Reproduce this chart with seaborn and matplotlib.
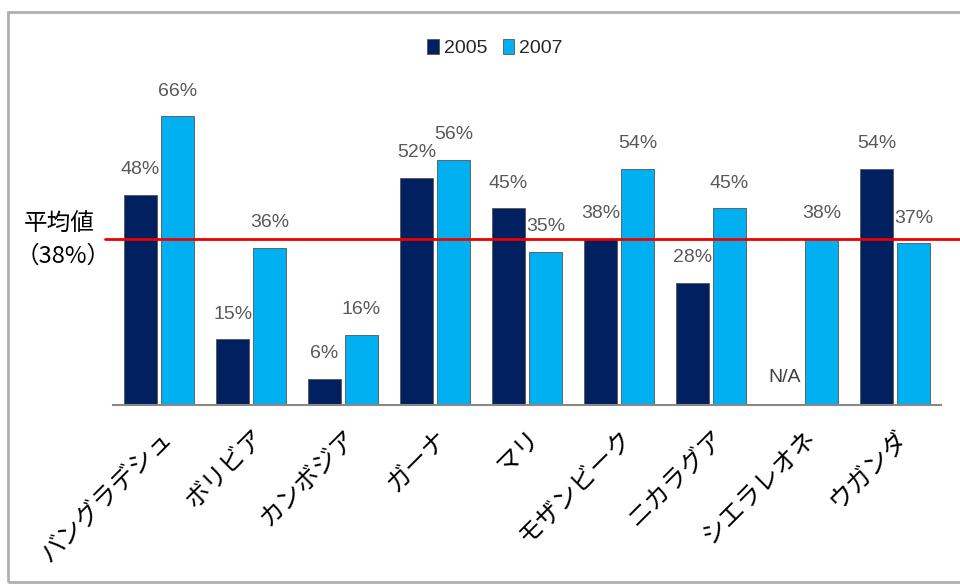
import numpy as np
import pandas as pd
import matplotlib
matplotlib.use("Agg")
import matplotlib.pyplot as plt
import seaborn as sns
from matplotlib.patches import Rectangle

countries = ["バングラデシュ", "ボリビア", "カンボジア", "ガーナ", "マリ",
             "モザンビーク", "ニカラグア", "シエラレオネ", "ウガンダ"]
v2005 = [48, 15, 6, 52, 45, 38, 28, np.nan, 54]
v2007 = [66, 36, 16, 56, 35, 54, 45, 38, 37]
years = ["2005", "2007"]
average = 38

sns.set_theme(style="white")
plt.rcParams['font.family'] = ['Noto Sans CJK JP', 'DejaVu Sans']

df = pd.DataFrame({
    "country": countries * 2,
    "year": [years[0]] * len(countries) + [years[1]] * len(countries),
    "value": v2005 + v2007,
})

fig = plt.figure(figsize=(9.6, 5.85), dpi=100)
ax = fig.add_axes([113/960, 1-405/585, 828/960, 328/585])

palette = {"2005": "#002060", "2007": "#00b0f0"}
sns.barplot(data=df, x="country", y="value", hue="year", palette=palette,
            order=countries, hue_order=years, width=0.8, gap=0.12,
            saturation=1, edgecolor="#555555", linewidth=0.6, ax=ax, legend=True)

ax.set_ylim(0, 75)
ax.set_xlim(-0.5, len(countries) - 0.5)
ax.set_ylabel("")
ax.set_xlabel("")
ax.set_yticks([])
for s in ["left", "right", "top"]:
    ax.spines[s].set_visible(False)
ax.spines["bottom"].set_color("#888888")
ax.spines["bottom"].set_linewidth(1.5)
ax.tick_params(axis="x", length=0, pad=14)

lblfam = ['Liberation Sans Narrow', 'Liberation Sans', 'DejaVu Sans']
for cont in ax.containers:
    labels = ["" if np.isnan(v) else f"{int(v)}%" for v in cont.datavalues]
    ax.bar_label(cont, labels=labels, padding=12, color="#595959",
                 fontsize=14, fontfamily=lblfam)

ax.text(7 - 0.2, 6.2, "N/A", ha="center", va="center", color="#404040",
        fontsize=14, fontfamily=lblfam)

ax.set_xticks(range(len(countries)))
ax.set_xticklabels(countries, rotation=45, ha="right", rotation_mode="anchor",
                   fontsize=18, color="black")

ax.axhline(average, xmin=-8/828, xmax=(960-113)/828, color="#ee0000",
           linewidth=2, clip_on=False, zorder=5)
fig.text(24/960, 1-224/585, "平均値", fontsize=17, ha="left", va="center", color="black")
fig.text(16/960, 1-256/585, "（38%）", fontsize=17, ha="left", va="center", color="black")

h, l = ax.get_legend_handles_labels()
ax.get_legend().remove()
leg = fig.legend(h, l, loc="center", bbox_to_anchor=(495/960, 1-48/585), ncol=2,
                 frameon=False, handlelength=0.6, handleheight=0.8,
                 handletextpad=0.25, columnspacing=0.8,
                 prop={'family': lblfam, 'size': 14})

fig.patches.append(Rectangle((8/960, 3/585), 1.0, 1-15/585, transform=fig.transFigure,
                             fill=False, edgecolor="#b0b0b0", linewidth=2))

fig.savefig("out.png", dpi=100)
